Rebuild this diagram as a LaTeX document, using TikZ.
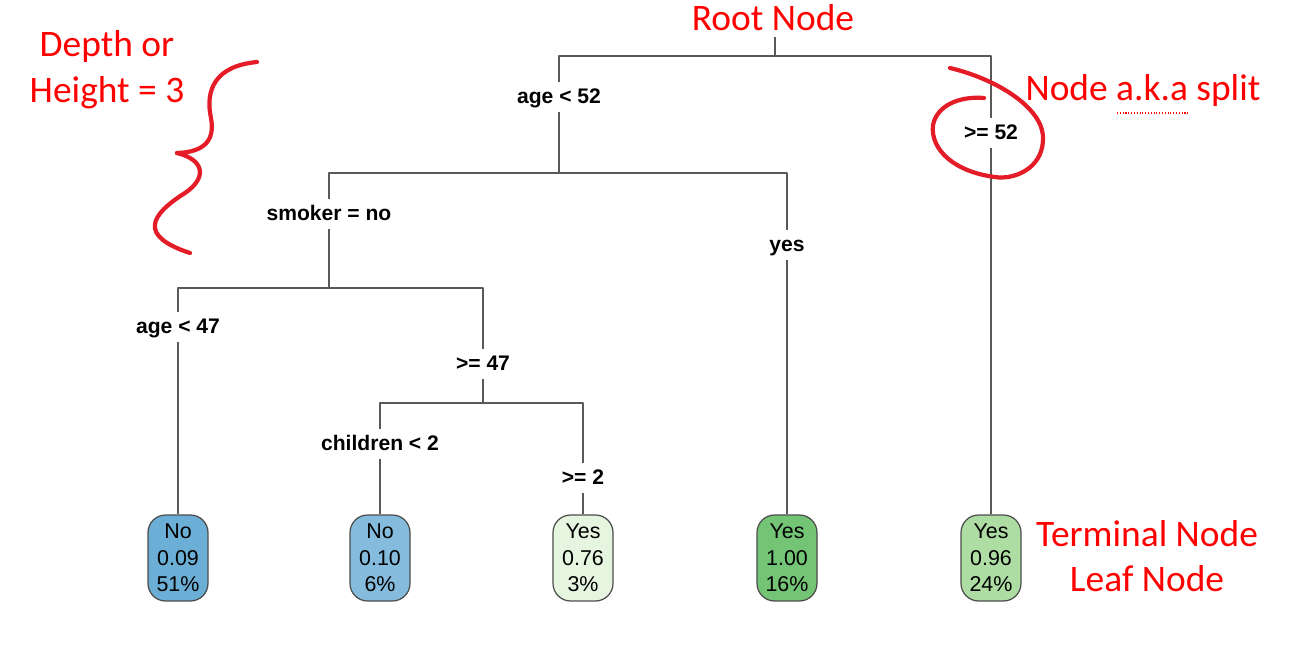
\documentclass[tikz,border=0pt]{standalone}
\usepackage{fontspec}
\setmainfont{Liberation Sans}
\newfontfamily\handfont{Carlito}
\usetikzlibrary{positioning}

\definecolor{leafblue}{RGB}{107,174,214}
\definecolor{leafbluelt}{RGB}{133,188,221}
\definecolor{leafpale}{RGB}{229,245,224}
\definecolor{leafgreen}{RGB}{116,196,118}
\definecolor{leafgreenlt}{RGB}{173,221,163}
\definecolor{annored}{RGB}{255,0,0}
\definecolor{penred}{RGB}{228,28,40}

\begin{document}
\begin{tikzpicture}[x=0.02cm, y=-0.02cm, line join=round,
  branch/.style={draw=black!65, line width=0.85pt},
  splitlbl/.style={font=\fontsize{12}{14}\selectfont\bfseries, inner sep=3.5pt,
    text height=9pt, text depth=1.2pt},
  leaf/.style={draw=black!70, line width=0.7pt, rounded corners=10pt, minimum width=1.2cm,
    minimum height=1.72cm, align=center, inner sep=1pt, font=\fontsize{12.2}{15}\selectfont},
  note/.style={text=annored, font=\handfont\fontsize{21.3}{26}\selectfont, align=center},
  pen/.style={draw=penred, line width=2.4pt, line cap=round}]

	\useasboundingbox (0,0) rectangle (1297,648);

	% --- split labels of the tree ---
	\node[splitlbl] (a52) at (559,97) {age < 52};
	\node[splitlbl] (g52) at (991,133) {>= 52};
	\node[splitlbl] (smk) at (329,214) {smoker = no};
	\node[splitlbl] (yes) at (787,245) {yes};
	\node[splitlbl] (a47) at (178,327) {age < 47};
	\node[splitlbl] (g47) at (483,364) {>= 47};
	\node[splitlbl] (ch2) at (380,444) {children < 2};
	\node[splitlbl] (g2)  at (583,478) {>= 2};

	% --- junctions where a split branches ---
	\coordinate (j0) at (775,56);
	\coordinate (j1) at (559,173);
	\coordinate (j2) at (329,288);
	\coordinate (j3) at (483,403);

	% --- leaves ---
	\node[leaf, fill=leafblue]    (lfA) at (178,558) {No\\0.09\\51\%};
	\node[leaf, fill=leafbluelt]  (lfB) at (380,558) {No\\0.10\\6\%};
	\node[leaf, fill=leafpale]    (lfC) at (583,558) {Yes\\0.76\\3\%};
	\node[leaf, fill=leafgreen]   (lfD) at (787,558) {Yes\\1.00\\16\%};
	\node[leaf, fill=leafgreenlt] (lfE) at (991,558) {Yes\\0.96\\24\%};

	% --- annotations ---
	\node[note] (rootlbl) at (773,18) {Root Node};
	\node[note] (depth) at (107,70) {Depth or\\Height = 3};
	\node[note] (split) at (1143,91) {Node a.k.a split};
	\node[note] (term) at (1147,556) {Terminal Node\\Leaf Node};

	% --- branches ---
	\draw[branch] (rootlbl.south -| j0) -- (j0);
	\draw[branch] (a52) |- (j0) -| (g52);
	\draw[branch] (a52) -- (j1);
	\draw[branch] (smk) |- (j1) -| (yes);
	\draw[branch] (smk) -- (j2);
	\draw[branch] (a47) |- (j2) -| (g47);
	\draw[branch] (g47) -- (j3);
	\draw[branch] (ch2) |- (j3) -| (g2);
	\draw[branch] (a47) -- (lfA);
	\draw[branch] (ch2) -- (lfB);
	\draw[branch] (g2)  -- (lfC);
	\draw[branch] (yes) -- (lfD);
	\draw[branch] (g52) -- (lfE);

	% --- red pen marks ---
	\draw[pen] (257,62) .. controls (215,66) and (205,90) .. (211,118)
		.. controls (215,140) and (205,152) .. (177,153);
	\draw[pen] (177,153) .. controls (205,160) and (207,178) .. (185,193)
		.. controls (150,215) and (138,236) .. (190,253);
	\draw[pen] (950,68) .. controls (1000,80) and (1045,110) .. (1043,140)
		.. controls (1042,170) and (1012,180) .. (995,177)
		.. controls (955,172) and (930,150) .. (933,125)
		.. controls (937,105) and (960,96) .. (984,98);
	\draw[annored, densely dotted, line width=0.6pt] (1117,113) -- (1190,113);

\end{tikzpicture}
\end{document}
